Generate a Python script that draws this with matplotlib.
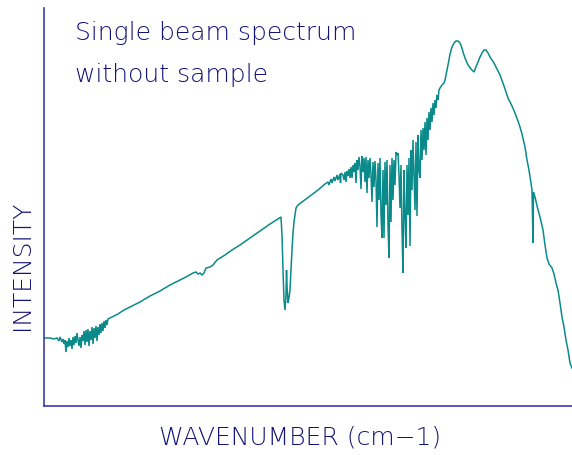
import matplotlib
matplotlib.use("Agg")
import matplotlib.pyplot as plt

# Horizontal position (arbitrary wavenumber scale, no ticks shown) and intensity (arbitrary units)
position = [
    44, 50, 54, 57, 59, 60,
    62, 63, 64, 65, 66, 67, 68, 69, 70, 71, 72, 73, 74, 75, 76, 77, 78, 79, 80, 81,
    82, 83, 84, 85, 86, 87, 88, 89, 90, 91, 92, 93, 94, 95, 96, 97, 98, 99, 100, 101,
    102, 103, 104, 105, 106, 107, 108,
    110, 114, 118, 124,
    130, 140, 150, 160, 170, 180, 186, 193, 196, 198, 200, 202, 204, 206, 210, 213,
    217, 225, 232, 240, 250, 260, 270, 281,
    282, 283, 284, 285, 286, 286.5, 287, 288, 289, 290, 291, 292, 293, 294, 296, 298,
    302, 310, 318, 325, 328, 329, 331, 332, 334, 335, 337, 338, 340,
    340.5, 341, 343, 344, 345, 346, 347, 348, 349, 350, 351, 352, 353, 354, 355, 356,
    357, 358, 359, 360, 361, 362, 363, 364, 365, 366, 367, 368, 369, 370, 371, 372,
    373, 374, 375, 376, 377, 378, 379, 380, 381, 382, 383, 384, 385, 386, 387, 388,
    389, 390, 391, 392, 393, 394, 395, 396, 397, 398, 399, 400, 401, 402, 403, 404,
    405, 406, 407, 408, 409, 410, 411, 412, 413, 414, 415, 416, 417, 418, 419, 420,
    421, 422, 423, 424, 425, 426, 427, 428, 429, 430, 431, 432, 433, 434, 435, 436,
    437, 438, 439, 440, 442, 444,
    445, 447, 449, 450, 452, 454, 456, 458, 460, 462, 463, 465, 468, 471, 474, 476,
    478, 480, 482, 484, 486, 488, 490, 494, 498, 500, 504, 508, 512, 515, 518, 520,
    522, 525, 527, 529, 531, 532, 533, 533.5, 535, 538, 540, 543, 545, 547, 549, 552,
    554, 556, 558, 560, 562, 564, 566, 568, 570, 572,
]

intensity = [
    68, 68, 67, 68, 65, 69,
    64, 67, 62, 66, 54, 65, 59, 68, 60, 66, 57, 69, 61, 70, 63, 73, 66, 60, 69, 58,
    71, 65, 75, 61, 76, 64, 77, 60, 75, 66, 79, 62, 78, 68, 80, 65, 79, 71, 82, 73,
    83, 75, 85, 78, 86, 81, 87,
    88, 90, 92, 96,
    99, 104, 110, 115, 121, 126, 129, 133, 134, 132, 133, 131, 133, 138, 139, 141,
    146, 151, 156, 161, 168, 175, 182, 189,
    171, 136, 106, 96, 111, 136, 121, 103, 108, 116, 136, 156, 173, 184, 198, 201,
    204, 210, 216, 222, 224, 221, 227, 223, 229, 225, 231, 226, 232,
    223, 233, 231, 226, 234, 224, 235, 230, 237, 228, 239, 228, 241, 234, 243, 223,
    246, 236, 249, 240, 217, 250, 234, 248, 224, 249, 213, 246, 228, 248, 231, 204,
    244, 219, 245, 226, 179, 243, 206, 248, 191, 168, 236, 168, 244, 201, 246, 181,
    148, 241, 184, 248, 206, 246, 221, 254, 251, 253, 231, 198, 241, 176, 133, 236,
    191, 158, 241, 191, 248, 160, 256, 216, 266, 231, 196, 264, 190, 271, 236, 228,
    276, 246, 278, 256, 284, 251, 288, 266, 294, 276, 298, 284, 303, 291, 306, 298,
    311, 306, 316, 318, 321, 323,
    326, 336, 346, 352, 359, 363, 365, 365, 363, 358, 354, 348, 341, 337, 334, 339,
    344, 349, 353, 356, 356, 353, 349, 343, 335, 331, 320, 308, 300, 293, 285, 279,
    272, 259, 246, 236, 223, 216, 163, 214, 209, 196, 189, 176, 161, 148, 142, 138,
    132, 123, 116, 103, 89, 79, 66, 56, 43, 38,
]

title_lines = ["Single beam spectrum", "without sample"]
x_label = "WAVENUMBER (cm\u22121)"
y_label = "INTENSITY"

W, H = 572, 455
fig = plt.figure(figsize=(W / 100, H / 100), dpi=100)
ax = fig.add_axes([44 / W, 1 - 406 / H, 1 - 44 / W, (406 - 8) / H])

line_color = "#0a8a8a"
text_color = "#141478"
spine_color = "#3c3cac"

ax.plot(position, intensity, color=line_color, lw=1.1, solid_joinstyle="miter")
ax.set_xlim(44, 572)
ax.set_ylim(0, 398)
ax.set_xticks([])
ax.set_yticks([])
for s in ("top", "right"):
    ax.spines[s].set_visible(False)
for s in ("left", "bottom"):
    ax.spines[s].set_color(spine_color)
    ax.spines[s].set_linewidth(1.2)

fig.text(75 / W, 1 - 33 / H, title_lines[0], color=text_color, fontsize=18,
         ha="left", va="center", family="DejaVu Sans", fontweight="light")
fig.text(75 / W, 1 - 75 / H, title_lines[1], color=text_color, fontsize=18,
         ha="left", va="center", family="DejaVu Sans", fontweight="light")
fig.text(300 / W, 1 - 437 / H, x_label, color=text_color, fontsize=18,
         ha="center", va="center", family="DejaVu Sans", fontweight="light")
fig.text(22 / W, 1 - 265 / H, y_label, color=text_color, fontsize=18, rotation=90,
         ha="center", va="center", family="DejaVu Sans", fontweight="light")

fig.savefig("out.png", dpi=100)
